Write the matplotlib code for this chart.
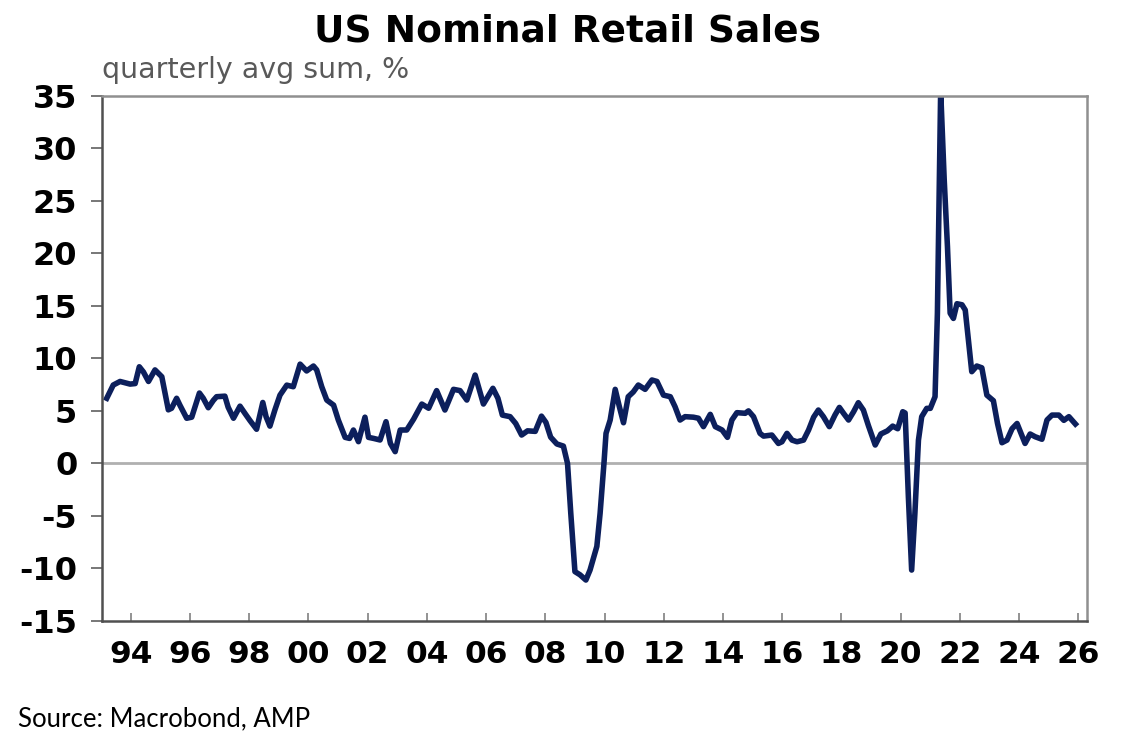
import matplotlib.pyplot as plt

# data (decimal year, % quarterly avg sum)
years = [1993.19, 1993.41, 1993.64, 1993.98, 1994.15, 1994.29, 1994.43, 1994.60, 1994.82, 1995.05,
         1995.27, 1995.38, 1995.55, 1995.66, 1995.89, 1996.06, 1996.32, 1996.45, 1996.62, 1996.79,
         1996.90, 1997.18, 1997.29, 1997.47, 1997.69, 1997.86, 1998.03, 1998.25, 1998.46, 1998.57,
         1998.70, 1998.87, 1999.04, 1999.27, 1999.49, 1999.72, 1999.94, 2000.17, 2000.28, 2000.45,
         2000.62, 2000.85, 2001.01, 2001.24, 2001.39, 2001.52, 2001.69, 2001.91, 2002.03, 2002.20,
         2002.42, 2002.62, 2002.77, 2002.93, 2003.10, 2003.32, 2003.55, 2003.83, 2004.06, 2004.33,
         2004.61, 2004.90, 2005.12, 2005.35, 2005.63, 2005.91, 2006.23, 2006.40, 2006.55, 2006.81,
         2007.00, 2007.20, 2007.40, 2007.66, 2007.87, 2008.02, 2008.18, 2008.39, 2008.61, 2008.75,
         2008.86, 2009.00, 2009.17, 2009.37, 2009.51, 2009.74, 2009.85, 2009.98, 2010.05, 2010.19,
         2010.36, 2010.50, 2010.64, 2010.80, 2010.97, 2011.14, 2011.37, 2011.60, 2011.77, 2011.99,
         2012.22, 2012.38, 2012.55, 2012.72, 2013.00, 2013.17, 2013.34, 2013.57, 2013.74, 2013.97,
         2014.15, 2014.30, 2014.47, 2014.75, 2014.86, 2015.03, 2015.25, 2015.37, 2015.65, 2015.87,
         2015.99, 2016.16, 2016.33, 2016.50, 2016.72, 2016.89, 2017.06, 2017.22, 2017.39, 2017.59,
         2017.78, 2017.93, 2018.07, 2018.24, 2018.41, 2018.57, 2018.74, 2018.91, 2019.14, 2019.33,
         2019.55, 2019.73, 2019.90, 2020.07, 2020.15, 2020.26, 2020.37, 2020.48, 2020.60, 2020.71,
         2020.88, 2021.00, 2021.16, 2021.24, 2021.35, 2021.47, 2021.58, 2021.67, 2021.78, 2021.90,
         2022.07, 2022.18, 2022.30, 2022.40, 2022.57, 2022.74, 2022.91, 2023.13, 2023.27, 2023.42,
         2023.59, 2023.76, 2023.93, 2024.04, 2024.20, 2024.37, 2024.54, 2024.77, 2024.94, 2025.11,
         2025.34, 2025.51, 2025.68, 2025.90]

sales = [6.2, 7.46, 7.8, 7.55, 7.6, 9.2, 8.7, 7.8, 8.9, 8.25,
         5.1, 5.25, 6.2, 5.55, 4.3, 4.4, 6.7, 6.2, 5.3, 6.0,
         6.35, 6.4, 5.35, 4.3, 5.45, 4.75, 4.07, 3.25, 5.8, 4.45,
         3.55, 5.1, 6.5, 7.45, 7.3, 9.45, 8.8, 9.27, 8.9, 7.3,
         6.03, 5.55, 4.13, 2.48, 2.38, 3.18, 2.07, 4.4, 2.48, 2.38,
         2.23, 3.97, 1.9, 1.12, 3.18, 3.18, 4.2, 5.65, 5.25, 6.93,
         5.08, 7.05, 6.93, 6.03, 8.41, 5.65, 7.15, 6.2, 4.6, 4.45,
         3.8, 2.7, 3.1, 3.05, 4.5, 3.9, 2.5, 1.85, 1.65, 0.0,
         -4.75, -10.3, -10.6, -11.1, -10.15, -7.9, -4.75, 0.0, 2.86, 4.13,
         7.05, 5.4, 3.87, 6.35, 6.8, 7.46, 7.05, 7.94, 7.8, 6.5,
         6.35, 5.4, 4.13, 4.45, 4.4, 4.3, 3.5, 4.67, 3.5, 3.18,
         2.48, 4.13, 4.83, 4.77, 5.0, 4.45, 2.86, 2.6, 2.7, 1.9,
         2.06, 2.86, 2.22, 2.06, 2.22, 3.18, 4.4, 5.08, 4.45, 3.5,
         4.6, 5.33, 4.77, 4.13, 4.92, 5.78, 5.08, 3.6, 1.75, 2.8,
         3.1, 3.55, 3.3, 4.92, 4.8, -3.2, -10.15, -4.75, 2.22, 4.45,
         5.24, 5.24, 6.35, 14.3, 35.5, 27.0, 20.6, 14.3, 13.8, 15.2,
         15.1, 14.6, 11.4, 8.73, 9.27, 9.1, 6.5, 5.97, 3.8, 1.97,
         2.22, 3.3, 3.8, 3.02, 1.9, 2.8, 2.54, 2.3, 4.13, 4.6,
         4.6, 4.1, 4.45, 3.75]

tick_years = list(range(1994, 2027, 2))
tick_labels = ["%02d" % (y % 100) for y in tick_years]
y_ticks = list(range(-15, 36, 5))

# wide sans (the reference text looks stretched sideways)
plt.rcParams["font.family"] = ["DejaVu Sans"]
plt.rcParams["axes.unicode_minus"] = False

fig = plt.figure(figsize=(11.29, 7.53), dpi=100)
ax = fig.add_axes([0.0906, 0.1753, 0.8719, 0.6976])

ax.axhline(0, color="#b0b0b0", lw=2, zorder=1)
ax.plot(years, sales, color="#0c1f5c", lw=4, zorder=2)

ax.set_xlim(1993.04, 2026.28)
ax.set_ylim(-15, 35)

ax.set_xticks(tick_years)
ax.set_xticklabels(tick_labels)
ax.set_yticks(y_ticks)

ax.tick_params(axis="x", direction="in", length=6, width=1.2, color="#808080",
               labelsize=22.5, pad=14)
ax.tick_params(axis="y", direction="out", length=8, width=1.2, color="#606060",
               labelsize=23, pad=10)
for lab in ax.get_xticklabels() + ax.get_yticklabels():
    lab.set_fontweight("bold")

# frame: darker on left/bottom, lighter on top/right
for side in ["left", "bottom"]:
    ax.spines[side].set_color("#505050")
    ax.spines[side].set_linewidth(1.8)
for side in ["top", "right"]:
    ax.spines[side].set_color("#909090")
    ax.spines[side].set_linewidth(1.8)

# titles and source
fig.text(0.503, 0.958, "US Nominal Retail Sales", ha="center", va="center",
         fontsize=27, fontweight="bold")
fig.text(0.0906, 0.907, "quarterly avg sum, %", ha="left", va="center",
         fontsize=20.5, color="#595959")
fig.text(0.016, 0.046, "Source: Macrobond, AMP", ha="left", va="center",
         fontsize=18.5, family=["Lato", "DejaVu Sans"])

plt.savefig("out.png", dpi=100)
